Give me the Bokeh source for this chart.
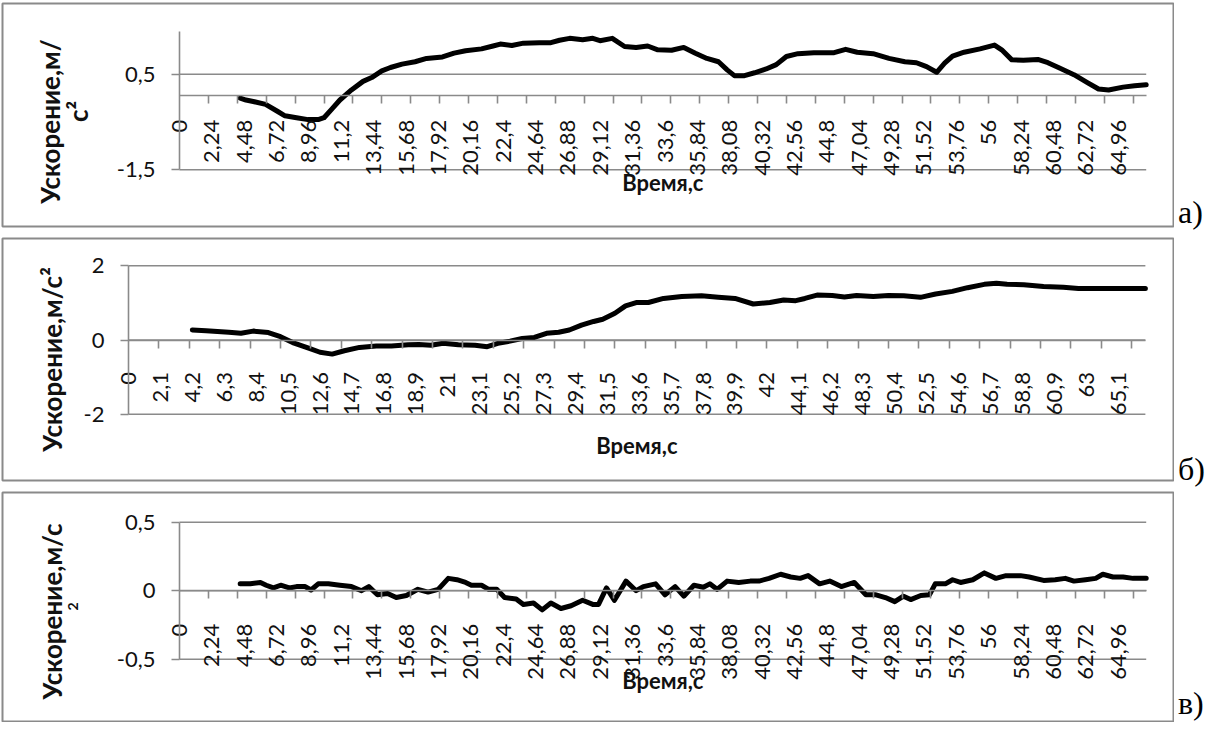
import math
from bokeh.plotting import figure
from bokeh.models import (FixedTicker, CustomJSTickFormatter, Label, LinearAxis, Range1d, Div)
from bokeh.layouts import column, row
from bokeh.embed import file_html
from bokeh.resources import INLINE

# ---------------- data ----------------
t_a = [4.2, 4.6, 5.1, 5.96, 6.8, 7.3, 8.1, 8.9, 9.6, 10.0, 10.6, 11.1, 11.9, 12.7, 13.3, 14.0, 14.6, 15.4, 16.3, 17.1,
       18.2, 19.0, 19.8, 20.9, 21.7, 22.2, 23.0, 23.8, 24.9, 25.7, 26.3, 27.0, 27.9, 28.6, 29.1, 29.95, 30.8, 31.6, 32.4, 33.1,
       34.05, 34.9, 35.7, 36.5, 37.3, 37.9, 38.4, 39.1, 39.8, 40.6, 41.3, 42.0, 42.8, 43.9, 45.3, 46.1, 46.9, 48.0, 49.1, 50.2,
       51.0, 51.7, 52.4, 52.95, 53.5, 54.3, 55.4, 56.4, 56.9, 57.6, 58.4, 59.4, 60.1, 60.9, 61.9, 62.8, 63.6, 64.3, 65.3, 66.1, 66.9]
acc_a = [0.0, -0.04, -0.07, -0.13, -0.28, -0.37, -0.41, -0.45, -0.45, -0.41, -0.21, -0.04, 0.17, 0.35, 0.43, 0.57, 0.64, 0.71, 0.76, 0.83,
         0.86, 0.94, 0.99, 1.03, 1.09, 1.13, 1.10, 1.15, 1.16, 1.16, 1.21, 1.25, 1.22, 1.25, 1.20, 1.25, 1.08, 1.06, 1.09, 1.01,
         1.0, 1.06, 0.94, 0.83, 0.76, 0.59, 0.47, 0.47, 0.53, 0.61, 0.70, 0.87, 0.93, 0.95, 0.95, 1.02, 0.96, 0.93, 0.83, 0.76,
         0.74, 0.66, 0.54, 0.73, 0.88, 0.96, 1.03, 1.11, 1.01, 0.80, 0.79, 0.81, 0.74, 0.63, 0.49, 0.33, 0.19, 0.17, 0.23, 0.26, 0.28]

t_b = [4.2, 5.1, 6.6, 7.4, 8.2, 9.2, 10.0, 10.8, 11.85, 12.6, 13.4, 14.2, 15.2, 16.3, 17.3, 18.4, 19.1, 19.9, 20.7, 21.7,
       22.8, 23.6, 24.3, 25.1, 25.9, 26.7, 27.5, 28.3, 29.0, 29.8, 30.6, 31.2, 32.0, 32.7, 33.4, 34.2, 35.2, 36.4, 37.7, 38.8,
       39.9, 41.1, 42.2, 43.1, 43.9, 44.5, 45.3, 46.3, 47.1, 47.9, 49.0, 50.0, 51.0, 52.1, 53.1, 54.2, 55.2, 56.3, 57.1, 57.8,
       58.9, 60.2, 61.5, 62.5, 64.4, 66.9]
acc_b = [0.27, 0.25, 0.21, 0.18, 0.24, 0.20, 0.09, -0.07, -0.22, -0.33, -0.38, -0.29, -0.20, -0.16, -0.16, -0.13, -0.12, -0.14, -0.09, -0.13,
         -0.14, -0.18, -0.09, -0.03, 0.04, 0.07, 0.18, 0.21, 0.27, 0.40, 0.50, 0.56, 0.72, 0.92, 1.01, 1.01, 1.12, 1.17, 1.19, 1.15,
         1.12, 0.97, 1.01, 1.08, 1.06, 1.12, 1.21, 1.20, 1.16, 1.20, 1.17, 1.20, 1.19, 1.15, 1.24, 1.31, 1.41, 1.50, 1.53, 1.50,
         1.49, 1.44, 1.42, 1.39, 1.39, 1.39]

t_c = [4.2, 4.9, 5.6, 6.0, 6.5, 7.0, 7.6, 8.1, 8.7, 9.1, 9.6, 10.3, 11.1, 11.9, 12.6, 13.1, 13.7, 14.4, 15.0, 15.7,
       16.5, 17.2, 17.9, 18.6, 19.2, 19.8, 20.2, 20.9, 21.4, 21.95, 22.5, 23.3, 23.8, 24.5, 25.1, 25.7, 26.4, 27.1, 27.9, 28.6,
       29.0, 29.55, 30.1, 30.9, 31.6, 32.1, 32.95, 33.6, 34.3, 34.9, 35.6, 36.25, 36.7, 37.2, 37.9, 38.7, 39.5, 40.1, 40.8, 41.6,
       42.3, 42.95, 43.5, 44.3, 45.0, 45.8, 46.7, 47.5, 48.2, 48.85, 49.5, 50.1, 50.6, 51.3, 51.9, 52.3, 53.0, 53.5, 54.05, 54.9,
       55.7, 56.5, 57.2, 58.2, 58.8, 59.8, 60.6, 61.3, 61.9, 62.7, 63.4, 63.9, 64.6, 65.3, 66.0, 66.9]
acc_c = [0.05, 0.05, 0.06, 0.04, 0.02, 0.04, 0.02, 0.03, 0.03, 0.005, 0.05, 0.05, 0.04, 0.03, 0.0, 0.03, -0.03, -0.02, -0.05, -0.035,
         0.01, -0.01, 0.01, 0.09, 0.08, 0.06, 0.04, 0.04, 0.01, 0.01, -0.05, -0.06, -0.10, -0.09, -0.14, -0.09, -0.13, -0.11, -0.07, -0.10,
         -0.10, 0.02, -0.07, 0.07, 0.0, 0.03, 0.05, -0.03, 0.03, -0.04, 0.04, 0.025, 0.05, 0.01, 0.07, 0.06, 0.07, 0.07, 0.09, 0.12,
         0.10, 0.09, 0.11, 0.05, 0.07, 0.03, 0.06, -0.03, -0.03, -0.05, -0.08, -0.04, -0.065, -0.035, -0.03, 0.05, 0.05, 0.08, 0.06, 0.08,
         0.13, 0.09, 0.11, 0.11, 0.10, 0.075, 0.08, 0.09, 0.07, 0.08, 0.09, 0.12, 0.10, 0.10, 0.09, 0.09]

xlabels_224 = [0, 2.24, 4.48, 6.72, 8.96, 11.2, 13.44, 15.68, 17.92, 20.16, 22.4, 24.64, 26.88, 29.12, 31.36, 33.6,
               35.84, 38.08, 40.32, 42.56, 44.8, 47.04, 49.28, 51.52, 53.76, 56, 58.24, 60.48, 62.72, 64.96]
xlabels_21 = [0, 2.1, 4.2, 6.3, 8.4, 10.5, 12.6, 14.7, 16.8, 18.9, 21, 23.1, 25.2, 27.3, 29.4, 31.5,
              33.6, 35.7, 37.8, 39.9, 42, 44.1, 46.2, 48.3, 50.4, 52.5, 54.6, 56.7, 58.8, 60.9, 63, 65.1]
xtick_marks = [2, 4, 6, 8, 10, 12, 14, 16, 18, 20, 22, 24, 26, 28, 30, 32, 34, 36, 38, 40, 42, 44, 46, 48, 50,
               52, 54, 56, 58, 60, 62, 64, 66]
x_end = 66.9

yticks_a = [-1.5, 0.5]
yticks_b = [-2, 0, 2]
yticks_c = [-0.5, 0, 0.5]

y_title = "Ускорение,м/с²"
x_title = "Время,с"

# ---------------- styling ----------------
GRAY = "#8a8a8a"
FONT = "Lato"
PAGE = 8
FRAME_L, FRAME_R = 10, 1181
FIG_W = FRAME_R + 1 - PAGE          # canvas of the chart box
LETTER_W = 1205 - FIG_W             # column for the a)/б)/в) letters

fmt = CustomJSTickFormatter(code="""
const r = Math.round(tick*100)/100;
return r.toString().replace('.', ',');
""")


def panel(canvas_top, height, frame_t, frame_b, x0, sx, y0, sy, ylo, yhi, yticks, xlabels, x_cross,
          label_standoff, t, acc, titles, xtitle_y, letter, letter_y):
    xs = (FRAME_L - x0) / sx
    xe = (FRAME_R - x0) / sx
    ys = (y0 - frame_b) / sy
    ye = (y0 - frame_t) / sy

    def dx(wx):
        return (wx - x0) / sx

    def dy(wy):
        return (y0 - wy) / sy

    p = figure(width=FIG_W, height=height, x_range=Range1d(xs, xe), y_range=Range1d(ys, ye),
               output_backend="svg", toolbar_location=None, title=None,
               x_axis_location=None, y_axis_location=None,
               min_border_left=FRAME_L - PAGE, min_border_right=PAGE + FIG_W - FRAME_R,
               min_border_top=frame_t - canvas_top, min_border_bottom=canvas_top + height - frame_b)
    p.grid.visible = False
    p.outline_line_color = GRAY
    p.outline_line_width = 2
    p.background_fill_color = "white"
    p.border_fill_color = "white"

    # gridlines limited to the plot area
    p.segment(x0=[0] * len(yticks), x1=[x_end] * len(yticks), y0=yticks, y1=yticks,
              line_color=GRAY, line_width=1.6)

    yax = LinearAxis(fixed_location=0, bounds=(ylo, yhi), ticker=FixedTicker(ticks=yticks, minor_ticks=[]),
                     formatter=fmt)
    yax.axis_line_color = GRAY
    yax.axis_line_width = 1.6
    yax.major_tick_line_color = GRAY
    yax.major_tick_line_width = 1.6
    yax.major_tick_out = 8
    yax.major_tick_in = 0
    yax.minor_tick_line_color = None
    yax.major_label_text_font = FONT
    yax.major_label_text_font_size = "22px"
    yax.major_label_text_color = "#111111"
    yax.major_label_standoff = 16
    p.add_layout(yax, "left")

    xax = LinearAxis(fixed_location=x_cross, bounds=(0, x_end),
                     ticker=FixedTicker(ticks=xlabels, minor_ticks=xtick_marks), formatter=fmt)
    xax.axis_line_color = GRAY
    xax.axis_line_width = 1.6
    xax.major_tick_line_color = None
    xax.major_tick_out = 0
    xax.major_tick_in = 0
    xax.minor_tick_line_color = GRAY
    xax.minor_tick_line_width = 1.6
    xax.minor_tick_out = 8
    xax.minor_tick_in = 0
    xax.major_label_orientation = math.pi / 2
    xax.major_label_text_font = FONT
    xax.major_label_text_font_size = "22px"
    xax.major_label_text_color = "#111111"
    xax.major_label_standoff = label_standoff
    p.add_layout(xax, "below")

    p.line(t, acc, line_color="black", line_width=5, line_join="round", line_cap="round")

    for (txt, wx, wy, fs) in titles:
        p.add_layout(Label(x=dx(wx), y=dy(wy), text=txt, angle=math.pi / 2, text_align="center",
                           text_baseline="middle", text_font=FONT, text_font_style="bold",
                           text_font_size=fs, text_color="#111111"))
    p.add_layout(Label(x=dx((x0 + x0 + x_end * sx) / 2), y=dy(xtitle_y), text=x_title, text_align="center",
                       text_baseline="middle", text_font=FONT, text_font_style="bold",
                       text_font_size="22px", text_color="#111111"))

    # letter next to the box (baseline at letter_y in window coordinates)
    top = letter_y - canvas_top - 27
    d = Div(text=f'<div style="margin:{top}px 0 0 4px;font-family:\'Liberation Serif\',serif;'
                 f'font-size:32px;line-height:32px;color:#000;white-space:nowrap;">{letter}</div>',
            width=LETTER_W, height=height, margin=0)
    return row(p, d, spacing=0)


pa = panel(canvas_top=8, height=232, frame_t=11, frame_b=234, x0=187, sx=14.45, y0=105.6, sy=47.8,
           ylo=-1.5, yhi=1.39, yticks=yticks_a, xlabels=xlabels_224, x_cross=0.05, label_standoff=16,
           t=t_a, acc=acc_a,
           titles=[("Ускорение,м/", 57, 129, "26px"), ("с²", 85, 119, "26px")],
           xtitle_y=190, letter="а)", letter_y=231)

pb = panel(canvas_top=240, height=254, frame_t=246, frame_b=488, x0=136, sx=15.2, y0=347.5, sy=37.1,
           ylo=-2, yhi=2, yticks=yticks_b, xlabels=xlabels_21, x_cross=0, label_standoff=24,
           t=t_b, acc=acc_b,
           titles=[(y_title, 59, 367, "26px")],
           xtitle_y=453, letter="б)", letter_y=488)

pc = panel(canvas_top=494, height=236, frame_t=500, frame_b=729, x0=187, sx=14.45, y0=598.2, sy=137,
           ylo=-0.5, yhi=0.5, yticks=yticks_c, xlabels=xlabels_224, x_cross=0, label_standoff=25,
           t=t_c, acc=acc_c,
           titles=[("Ускорение,м/с", 59, 619, "26px"), ("2", 80, 614, "14px")],
           xtitle_y=688, letter="в)", letter_y=722)

layout = column(pa, pb, pc, spacing=0)
open("out.html", "w").write(file_html(layout, INLINE))
